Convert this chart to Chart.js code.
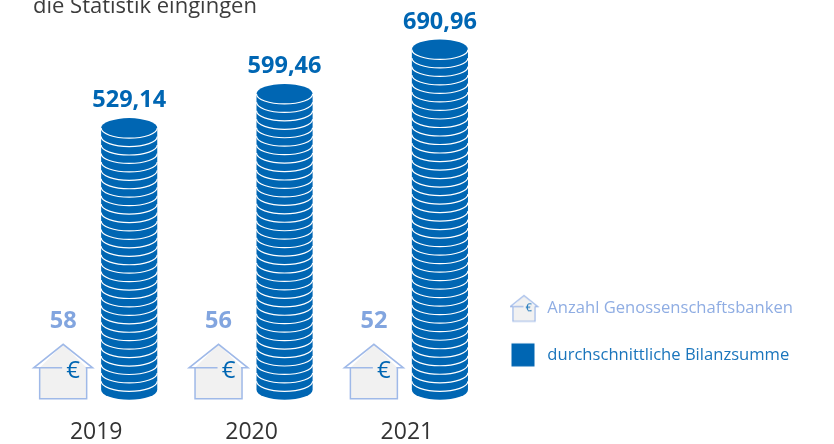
<!DOCTYPE html>
<html>
<head>
<meta charset="utf-8">
<style>html,body{margin:0;padding:0;background:#fff;overflow:hidden}canvas{display:block}</style>
<script src="https://cdn.jsdelivr.net/npm/chart.js@4/dist/chart.umd.min.js"></script>
</head>
<body>
<canvas id="c" width="834" height="444"></canvas>
<script>
const categories = ['2019', '2020', '2021'];
const banks = [58, 56, 52];
const balance = [529.14, 599.46, 690.96];
const bankLegend = 'Anzahl Genossenschaftsbanken';
const balanceLegend = 'durchschnittliche Bilanzsumme';
const heading = 'die Statistik eingingen';

const BLUE = '#0066b3', LIGHT = '#82a5df', FONT = '"Open Sans", sans-serif';

function drawHouse(ctx, cx, bottom, s) {
  const px = v => cx + v * s, py = v => bottom + v * s;
  ctx.save();
  ctx.beginPath();
  ctx.moveTo(px(0), py(-54.5)); ctx.lineTo(px(23.5), py(-31)); ctx.lineTo(px(23.5), py(0));
  ctx.lineTo(px(-23.5), py(0)); ctx.lineTo(px(-23.5), py(-31)); ctx.closePath();
  ctx.fillStyle = '#f1f1f1'; ctx.fill();
  ctx.strokeStyle = '#9fb9e8'; ctx.lineWidth = Math.max(1.2, 1.5 * s); ctx.lineJoin = 'miter';
  ctx.beginPath();
  ctx.moveTo(px(-23.5), py(-31)); ctx.lineTo(px(-23.5), py(0)); ctx.lineTo(px(23.5), py(0)); ctx.lineTo(px(23.5), py(-31));
  ctx.moveTo(px(-1), py(-31)); ctx.lineTo(px(-29.5), py(-31)); ctx.lineTo(px(0), py(-54.5));
  ctx.lineTo(px(29.5), py(-31)); ctx.lineTo(px(22.5), py(-31));
  ctx.stroke();
  ctx.fillStyle = BLUE; ctx.font = (24 * s) + 'px ' + FONT;
  ctx.textAlign = 'center'; ctx.textBaseline = 'middle';
  ctx.fillText('€', px(10), py(-28));
  ctx.restore();
}
function drawCoins(ctx, bar) {
  const rx = bar.width / 2, ry = 10;
  const top = bar.y + ry, bottom = bar.base - ry;
  const n = Math.round((bottom - top) / 8.55), step = (bottom - top) / n;
  ctx.save();
  ctx.fillStyle = BLUE;
  ctx.beginPath();
  ctx.ellipse(bar.x, top, rx, ry, 0, Math.PI, 2 * Math.PI);
  ctx.lineTo(bar.x + rx, bottom);
  ctx.ellipse(bar.x, bottom, rx, ry, 0, 0, Math.PI);
  ctx.closePath(); ctx.fill();
  ctx.strokeStyle = '#fff'; ctx.lineWidth = 1.2;
  for (let i = 0; i < n; i++) {
    ctx.beginPath();
    ctx.ellipse(bar.x, top + i * step, rx, ry, 0, 0, Math.PI);
    ctx.stroke();
  }
  ctx.restore();
}
function iconCanvas(draw) {
  const c = document.createElement('canvas'); c.width = 30; c.height = 30;
  draw(c.getContext('2d')); return c;
}
const houseIcon = iconCanvas(ctx => drawHouse(ctx, 14, 28, 0.47));
const squareIcon = iconCanvas(ctx => { ctx.fillStyle = BLUE; ctx.fillRect(1.5, 3.5, 23, 23); });

const painter = {
  id: 'painter',
  afterLayout(chart) { chart.legend.left = 481; chart.legend.top = 270; },
  afterDatasetsDraw(chart) {
    const ctx = chart.ctx;
    ctx.save();
    ctx.textAlign = 'center'; ctx.textBaseline = 'middle';
    chart.getDatasetMeta(0).data.forEach((bar, i) => {
      drawHouse(ctx, bar.x, bar.base - 1, 1);
      ctx.fillStyle = LIGHT; ctx.font = 'bold 23.5px ' + FONT;
      ctx.fillText(String(banks[i]), bar.x, bar.base - 78);
    });
    chart.getDatasetMeta(1).data.forEach((bar, i) => {
      drawCoins(ctx, bar);
      ctx.fillStyle = BLUE; ctx.font = 'bold 23.5px ' + FONT;
      ctx.fillText(balance[i].toFixed(2).replace('.', ','), bar.x, bar.y - 17.5);
    });
    ctx.textAlign = 'left'; ctx.textBaseline = 'alphabetic';
    ctx.fillStyle = '#3c3c3c'; ctx.font = '22px ' + FONT;
    ctx.fillText(heading, 33, 13);
    ctx.restore();
  }
};

new Chart(document.getElementById('c'), {
  type: 'bar',
  data: {
    labels: categories,
    datasets: [
      { label: bankLegend, data: banks, base: -50, backgroundColor: 'transparent', barPercentage: 0.85, categoryPercentage: 0.85 },
      { label: balanceLegend, data: balance, base: -50, backgroundColor: 'transparent', barPercentage: 0.85, categoryPercentage: 0.85 }
    ]
  },
  options: {
    responsive: false,
    animation: false,
    events: [],
    layout: { padding: { left: 18.5, right: 27.5, top: 0, bottom: -21.4 } },
    scales: {
      x: {
        grid: { display: false, drawTicks: false }, border: { display: false },
        ticks: { padding: 19, color: '#333', font: { family: FONT, size: 23 }, maxRotation: 0 }
      },
      y: { display: false, min: -50, max: 772 }
    },
    plugins: {
      title: { display: false },
      tooltip: { enabled: false },
      legend: {
        position: 'right', align: 'start',
        labels: {
          usePointStyle: true, pointStyleWidth: 28, padding: 30,
          font: { family: FONT, size: 16.6 },
          generateLabels() {
            return [
              { text: bankLegend, pointStyle: houseIcon, fontColor: '#8fade3', fillStyle: BLUE, strokeStyle: BLUE, lineWidth: 0, datasetIndex: 0 },
              { text: balanceLegend, pointStyle: squareIcon, fontColor: '#1a75bc', fillStyle: BLUE, strokeStyle: BLUE, lineWidth: 0, datasetIndex: 1 }
            ];
          }
        }
      }
    }
  },
  plugins: [painter]
});
</script>
</body>
</html>
